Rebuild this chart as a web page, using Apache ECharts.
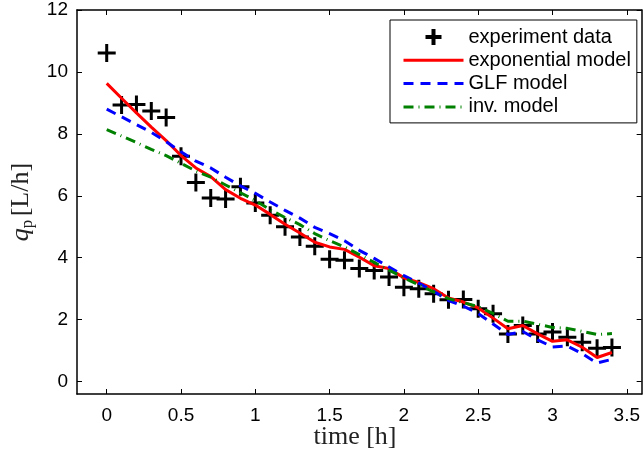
<!DOCTYPE html>
<html>
<head>
<meta charset="utf-8">
<script src="https://cdn.jsdelivr.net/npm/echarts@6/dist/echarts.min.js"></script>
<style>
html,body{margin:0;padding:0;background:#fff;}
#chart{width:643px;height:454px;}
</style>
</head>
<body>
<div id="chart"></div>
<script>
// ---- data ----
const timeH = [0,0.1,0.2,0.3,0.4,0.5,0.6,0.7,0.8,0.9,1.0,1.1,1.2,1.3,1.4,1.5,1.6,1.7,1.8,1.9,2.0,2.1,2.2,2.3,2.4,2.5,2.6,2.7,2.8,2.9,3.0,3.1,3.2,3.3,3.4];
const experimentData = [10.61,8.93,8.95,8.74,8.53,7.28,6.43,5.93,5.9,6.29,5.77,5.37,5.0,4.67,4.37,3.95,3.92,3.65,3.59,3.38,3.05,3.0,2.84,2.64,2.65,2.35,2.19,1.54,1.81,1.54,1.6,1.43,1.27,1.08,1.1];
const exponentialModel = [9.63,9.15,8.68,8.22,7.78,7.3,6.9,6.62,6.2,5.92,5.7,5.4,5.08,4.8,4.5,4.35,4.27,4.02,3.74,3.65,3.35,3.2,3.0,2.7,2.57,2.38,2.05,1.71,1.81,1.54,1.3,1.35,1.11,0.78,0.94];
const glfModel = [8.8,8.55,8.3,8.05,7.75,7.42,7.12,6.9,6.6,6.32,6.08,5.8,5.53,5.28,4.98,4.78,4.55,4.24,3.98,3.7,3.42,3.18,2.92,2.62,2.44,2.2,1.86,1.52,1.62,1.35,1.12,1.15,0.9,0.6,0.72];
const invModel = [8.14,7.93,7.72,7.5,7.3,7.05,6.8,6.6,6.35,6.1,5.85,5.55,5.3,5.07,4.78,4.55,4.35,4.1,3.85,3.6,3.35,3.12,2.9,2.68,2.55,2.42,2.2,1.95,1.95,1.85,1.75,1.72,1.62,1.52,1.55];
const seriesNames = ['experiment data','exponential model','GLF model','inv. model'];
const xTicks = [0,0.5,1,1.5,2,2.5,3,3.5];
const yTicks = [0,2,4,6,8,10,12];

const pair = arr => timeH.map((t,i)=>[t,arr[i]]);
const plusPath = 'path://M7.5,0H10.5V7.5H18V10.5H10.5V18H7.5V10.5H0V7.5H7.5Z';
const legendPlus = 'path://M6,0H10V6H16V10H10V16H6V10H0V6H6Z';
const sans = 'Liberation Sans, Arial, Helvetica, sans-serif';
const serif = 'Liberation Serif, Times New Roman, serif';

const axisCommon = {
  axisLine:{show:true,onZero:false,lineStyle:{color:'#000',width:1.5}},
  splitLine:{show:false}
};
function xAx(pos, labels){
  return Object.assign({}, axisCommon, {
    type:'value', position:pos, min:-0.2, max:3.6,
    axisTick:{show:true,inside:true,length:5,customValues:xTicks,lineStyle:{color:'#000',width:1}},
    axisLabel:{show:labels,customValues:xTicks,margin:12,color:'#000',fontSize:19,fontFamily:sans}
  });
}
function yAx(pos, labels){
  return Object.assign({}, axisCommon, {
    type:'value', position:pos, min:-0.4, max:12,
    axisTick:{show:true,inside:true,length:5,customValues:yTicks,lineStyle:{color:'#000',width:1}},
    axisLabel:{show:labels,customValues:yTicks,margin:9,color:'#000',fontSize:19,fontFamily:sans}
  });
}
const clear = 'rgba(0,0,0,0)';

const chart = echarts.init(document.getElementById('chart'), null, {renderer:'canvas'});
chart.setOption({
  animation:false,
  backgroundColor:'#fff',
  grid:{left:77,top:10,right:1,bottom:60,containLabel:false},
  xAxis:[xAx('bottom',true), xAx('top',false)],
  yAxis:[yAx('left',true), yAx('right',false)],
  legend:{
    orient:'vertical', left:390, top:20,
    backgroundColor:'#fff', borderColor:'#000', borderWidth:1, borderRadius:0,
    padding:[7,6,6,12], itemWidth:60, itemHeight:16, itemGap:3.3,
    lineStyle:{width:3},
    textStyle:{color:'#000',fontSize:20,fontFamily:sans,lineHeight:20},
    data:[
      {name:seriesNames[0], icon:legendPlus, itemStyle:{color:'#000'}},
      {name:seriesNames[1]},{name:seriesNames[2]},{name:seriesNames[3]}
    ]
  },
  series:[
    {name:seriesNames[0],type:'scatter',data:pair(experimentData),symbol:plusPath,symbolSize:18,
     itemStyle:{color:'#000',opacity:1},z:2},
    {name:seriesNames[1],type:'line',data:pair(exponentialModel),symbol:'circle',showSymbol:false,
     lineStyle:{color:'#ff0000',width:3},itemStyle:{color:clear},z:3},
    {name:seriesNames[2],type:'line',data:pair(glfModel),symbol:'circle',showSymbol:false,
     lineStyle:{color:'#0000ff',width:3,type:[10,7]},itemStyle:{color:clear},z:4},
    {name:seriesNames[3],type:'line',data:pair(invModel),symbol:'circle',showSymbol:false,
     lineStyle:{color:'#008000',width:3,type:[10,5,1,5]},itemStyle:{color:clear},z:5}
  ],
  graphic:[
    {type:'text',x:355,y:437,
     style:{text:'time [h]',font:'26px '+serif,fill:'#222',align:'center',verticalAlign:'middle'}},
    {type:'text',x:21,y:202,rotation:Math.PI/2,
     style:{text:'{q|q}{p|p} {t|[L/h]}',align:'center',verticalAlign:'middle',
       rich:{
         q:{fontFamily:serif,fontStyle:'italic',fontSize:26,fill:'#222',lineHeight:30,verticalAlign:'middle'},
         p:{fontFamily:serif,fontSize:17,fill:'#222',lineHeight:30,verticalAlign:'bottom'},
         t:{fontFamily:serif,fontSize:26,fill:'#222',lineHeight:30,verticalAlign:'middle'}
       }}}
  ]
});
</script>
</body>
</html>
